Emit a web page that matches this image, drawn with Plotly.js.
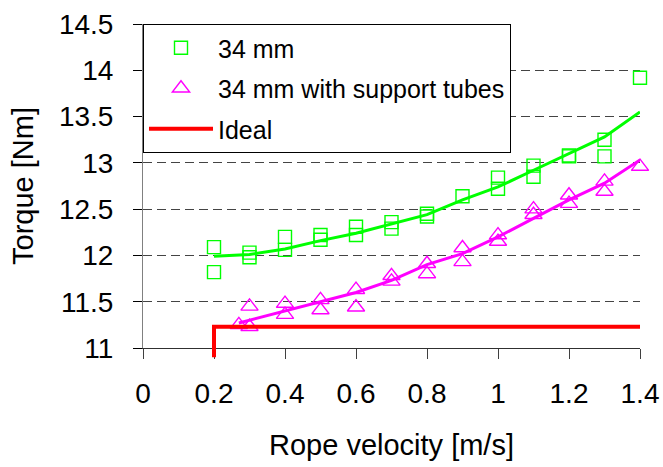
<!DOCTYPE html>
<html>
<head>
<meta charset="utf-8">
<script src="https://cdn.plot.ly/plotly-3.0.1.min.js"></script>
<style>
  html, body { margin: 0; padding: 0; background: #ffffff; }
  #chart { width: 663px; height: 467px; }
</style>
</head>
<body>
<div id="chart"></div>
<script>
// Measured torque, 34 mm rope drum
const plainX = [0.2, 0.2, 0.3, 0.3, 0.4, 0.4, 0.5, 0.5, 0.6, 0.6, 0.7, 0.7, 0.8, 0.8, 0.9, 1.0, 1.0, 1.1, 1.1, 1.2, 1.2, 1.3, 1.3, 1.4];
const plainY = [12.09, 11.82, 12.03, 11.98, 12.20, 12.06, 12.22, 12.17, 12.31, 12.22, 12.36, 12.29, 12.45, 12.42, 12.64, 12.84, 12.72, 12.97, 12.85, 13.08, 13.07, 13.25, 13.07, 13.92];

// Measured torque, 34 mm drum with support tubes
const tubesX = [0.27, 0.3, 0.3, 0.4, 0.4, 0.5, 0.5, 0.6, 0.6, 0.7, 0.7, 0.8, 0.8, 0.9, 0.9, 1.0, 1.0, 1.1, 1.1, 1.2, 1.2, 1.3, 1.3, 1.4];
const tubesY = [11.25, 11.45, 11.23, 11.48, 11.36, 11.52, 11.41, 11.63, 11.44, 11.78, 11.72, 11.91, 11.80, 12.08, 11.93, 12.22, 12.15, 12.50, 12.44, 12.65, 12.56, 12.80, 12.69, 12.96];

// Fitted trend curves
const plainFitX = [0.2, 0.3, 0.4, 0.5, 0.6, 0.7, 0.8, 0.9, 1.0, 1.1, 1.2, 1.3, 1.4];
const plainFitY = [11.99, 12.01, 12.07, 12.16, 12.24, 12.34, 12.44, 12.60, 12.74, 12.92, 13.10, 13.28, 13.55];
const tubesFitX = [0.27, 0.3, 0.4, 0.5, 0.6, 0.7, 0.8, 0.9, 1.0, 1.1, 1.2, 1.3, 1.4];
const tubesFitY = [11.27, 11.30, 11.40, 11.50, 11.60, 11.73, 11.90, 12.02, 12.20, 12.40, 12.60, 12.78, 13.03];

// Ideal torque (step at start-up velocity)
const idealX = [0.2, 0.2, 1.4];
const idealY = [10.9, 11.23, 11.23];

// Axis settings
const xRange = [0, 1.4];
const yRange = [11, 14.5];
const xTicks = [0, 0.2, 0.4, 0.6, 0.8, 1, 1.2, 1.4];
const xTickText = ['0', '0.2', '0.4', '0.6', '0.8', '1', '1.2', '1.4'];
const yTicks = [11, 11.5, 12, 12.5, 13, 13.5, 14, 14.5];
const yTickText = ['11', '11.5', '12', '12.5', '13', '13.5', '14', '14.5'];

const GREEN = '#00ff00';
const MAGENTA = '#ff00ff';
const RED = '#ff0000';
const FONT = 'Liberation Sans, Arial, sans-serif';

const traces = [
  {
    x: plainX, y: plainY, type: 'scatter', mode: 'markers', name: '34 mm',
    legendgroup: 'a',
    marker: { symbol: 'square-open', size: 13, color: GREEN, line: { width: 1.4, color: GREEN } },
    cliponaxis: false
  },
  {
    x: tubesX, y: tubesY, type: 'scatter', mode: 'markers', name: '34 mm with support tubes',
    legendgroup: 'b',
    marker: { symbol: 'triangle-up-open', size: 15, color: MAGENTA, line: { width: 1.4, color: MAGENTA } },
    cliponaxis: false
  },
  {
    x: idealX, y: idealY, type: 'scatter', mode: 'lines', name: 'Ideal',
    legendgroup: 'c',
    line: { color: RED, width: 4 }
  },
  {
    x: plainFitX, y: plainFitY, type: 'scatter', mode: 'lines', showlegend: false,
    line: { color: GREEN, width: 3 }
  },
  {
    x: tubesFitX, y: tubesFitY, type: 'scatter', mode: 'lines', showlegend: false,
    line: { color: MAGENTA, width: 3 }
  }
];

// the start-up step continues a little below the x axis
const stubBottom = (idealY[0] - yRange[0]) / (yRange[1] - yRange[0]);

const layout = {
  width: 663,
  height: 467,
  margin: { l: 143, r: 23, t: 24, b: 119 },
  paper_bgcolor: '#ffffff',
  plot_bgcolor: '#ffffff',
  font: { family: FONT, color: '#000000' },
  showlegend: true,
  legend: {
    x: 0, xanchor: 'left', y: 1, yanchor: 'top',
    bgcolor: '#ffffff', bordercolor: '#000000', borderwidth: 1,
    font: { family: FONT, size: 25, color: '#000000' },
    traceorder: 'grouped', tracegroupgap: 5,
    itemwidth: 64
  },
  xaxis: {
    range: xRange,
    tickvals: xTicks, ticktext: xTickText,
    ticks: 'outside', ticklen: 10, tickwidth: 1, tickcolor: '#404040',
    ticklabelstandoff: 10,
    showline: true, linecolor: '#303030', linewidth: 1,
    showgrid: false, zeroline: false,
    tickfont: { family: FONT, size: 28, color: '#000000' },
    title: { text: 'Rope velocity [m/s]', font: { family: FONT, size: 29, color: '#000000' }, standoff: 27 }
  },
  yaxis: {
    range: yRange,
    tickvals: yTicks, ticktext: yTickText,
    ticks: 'outside', ticklen: 9, tickwidth: 1, tickcolor: '#000000',
    ticklabelstandoff: 14,
    showline: true, linecolor: '#808080', linewidth: 1,
    showgrid: true, gridcolor: '#444444', gridwidth: 1, griddash: '9px,5px',
    zeroline: false,
    tickfont: { family: FONT, size: 28, color: '#000000' },
    title: { text: 'Torque [Nm]', font: { family: FONT, size: 29, color: '#000000' }, standoff: 16 }
  },
  shapes: [
    {
      type: 'line', xref: 'x', yref: 'paper',
      x0: idealX[0], x1: idealX[1], y0: stubBottom, y1: 0,
      line: { color: RED, width: 4 }
    }
  ]
};

Plotly.newPlot('chart', traces, layout, { displayModeBar: false, staticPlot: true });
</script>
</body>
</html>
